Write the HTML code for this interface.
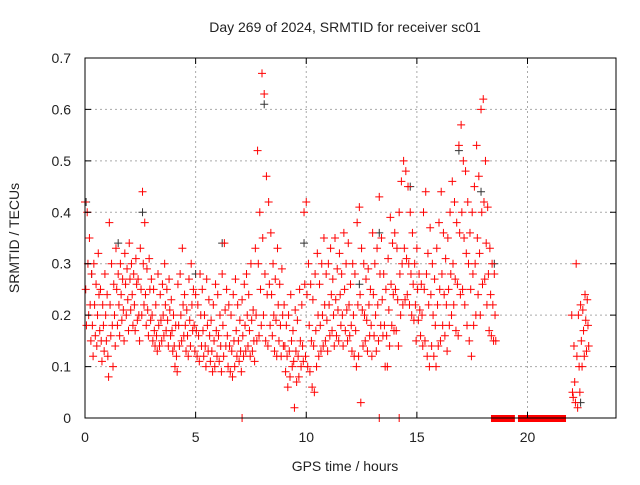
<!DOCTYPE html>
<html><head><meta charset="utf-8"><style>
body{margin:0;background:#fff;width:640px;height:480px;overflow:hidden}
svg text{font-family:"Liberation Sans",sans-serif;font-size:14px;fill:#222}
</style></head><body>
<svg id="c" width="640" height="480" xmlns="http://www.w3.org/2000/svg">
<text x="345" y="32" text-anchor="middle">Day 269 of 2024, SRMTID for receiver sc01</text>
<text x="345" y="471" text-anchor="middle">GPS time / hours</text>
<text transform="translate(19,238) rotate(-90)" text-anchor="middle">SRMTID / TECUs</text>
<g id="grid"></g><g id="marks"></g>
<rect x="85" y="58" width="531" height="360" fill="none" stroke="#000" stroke-width="1"/>
<g id="ticks"></g>
</svg>
<script>
const xTicks=[0,5,10,15,20];
const yTicks=[0,0.1,0.2,0.3,0.4,0.5,0.6,0.7];
const yTickLabels=["0","0.1","0.2","0.3","0.4","0.5","0.6","0.7"];
const mainStart=0, binStep=0.1;
const mainVals=[.42,.25,.18,.40,.30,.20,.35,.22,.15,.28,.18,.12,.30,.22,.16,.26,.14,.20,.32,.24,.17,.25,.15,.11,.22,.18,.13,.28,.20,.15,
.24,.12,.08,.38,.22,.16,.30,.18,.10,.26,.20,.14,.33,.25,.18,.28,.22,.16,.30,.24,.19,.27,.21,.15,.32,.26,.20,.29,.23,.17,
.34,.27,.21,.30,.24,.18,.28,.22,.17,.31,.26,.19,.27,.20,.15,.33,.25,.20,.44,.30,.22,.38,.24,.18,.29,.21,.16,.31,.25,.19,
.27,.20,.15,.25,.17,.14,.22,.16,.13,.28,.18,.14,.24,.19,.15,.26,.20,.16,.30,.22,.17,.25,.19,.14,.27,.21,.16,.23,.17,.13,
.20,.14,.10,.18,.12,.09,.26,.18,.14,.28,.20,.15,.33,.22,.16,.24,.18,.13,.21,.16,.12,.27,.19,.14,.30,.22,.17,.25,.18,.13,
.24,.17,.12,.22,.16,.11,.28,.20,.14,.25,.17,.12,.20,.14,.10,.27,.18,.13,.23,.16,.11,.19,.13,.09,.22,.15,.10,.26,.17,.12,
.24,.16,.11,.20,.14,.09,.28,.18,.12,.34,.21,.14,.25,.16,.10,.22,.14,.09,.20,.13,.08,.24,.15,.10,.27,.17,.12,.22,.15,.11,
.19,.13,.09,.23,.16,.12,.26,.18,.13,.28,.20,.14,.24,.17,.12,.30,.19,.13,.21,.15,.11,.33,.20,.15,.52,.30,.16,.40,.25,.18,
.67,.35,.20,.63,.28,.15,.47,.24,.14,.42,.26,.18,.36,.24,.16,.30,.20,.13,.27,.19,.12,.33,.22,.15,.26,.18,.12,.29,.20,.14,
.22,.14,.09,.18,.12,.06,.20,.13,.08,.24,.15,.10,.17,.11,.02,.21,.13,.07,.19,.12,.08,.25,.15,.10,.22,.14,.11,.40,.26,.12,
.42,.24,.10,.30,.18,.09,.26,.15,.06,.23,.14,.05,.28,.17,.10,.32,.20,.12,.26,.18,.13,.30,.20,.14,.35,.22,.15,.28,.19,.13,
.30,.22,.16,.33,.24,.17,.27,.20,.14,.35,.23,.16,.29,.21,.15,.32,.24,.18,.28,.20,.14,.36,.25,.17,.30,.21,.15,.34,.22,.16,
.26,.18,.13,.30,.20,.12,.28,.17,.10,.38,.22,.12,.41,.24,.03,.33,.21,.14,.30,.20,.15,.27,.19,.13,.29,.22,.16,.25,.18,.12,
.36,.24,.16,.30,.20,.13,.33,.22,.15,.43,.28,.18,.35,.23,.16,.28,.18,.10,.25,.16,.10,.31,.21,.14,.39,.26,.18,.34,.24,.17,
.36,.25,.17,.33,.23,.14,.40,.28,.20,.46,.30,.22,.50,.33,.23,.48,.31,.24,.45,.30,.22,.40,.28,.20,.36,.26,.19,.30,.22,.15,
.33,.25,.19,.28,.21,.16,.26,.20,.14,.40,.25,.15,.44,.28,.12,.32,.22,.10,.37,.24,.14,.30,.20,.12,.27,.18,.10,.33,.22,.14,
.38,.25,.15,.44,.28,.18,.36,.24,.16,.31,.22,.13,.35,.25,.18,.40,.28,.20,.46,.30,.22,.42,.27,.17,.38,.26,.16,.53,.36,.24,
.57,.40,.25,.50,.35,.22,.48,.32,.18,.42,.30,.15,.36,.25,.12,.40,.28,.18,.45,.30,.20,.53,.35,.24,.47,.32,.20,.60,.40,.26,
.62,.42,.27,.50,.34,.22,.41,.28,.17,.33,.24,.16,.30,.22,.15,.28,.20,.15];
const lateStart=22.0;
const lateVals=[.20,.05,.04,.14,.07,.03,.30,.12,.02,.20,.10,.05,.22,.15,.10,.21,.17,.12,.24,.19,.13,.23,.18,.14];
const zeroHours=[7.1,13.3,14.2];
const zeroRanges=[[18.53,19.25],[19.75,21.56]];
const blackHours=[0.05,0.3,1.5,2.6,5.0,6.2,8.1,9.9,12.4,13.3,14.7,16.9,17.9,18.5,22.4];
const blackVals=[.42,.28,.34,.40,.28,.34,.61,.34,.26,.36,.45,.52,.44,.30,.03];

const X0=85,X1=616,Y0=418,Y1=58,XMAX=24,YMAX=0.7;
const xs=h=>X0+(X1-X0)*h/XMAX, ys=v=>Y0-(Y0-Y1)*v/YMAX;
const NS="http://www.w3.org/2000/svg";
const grid=document.getElementById('grid'),ticks=document.getElementById('ticks'),marks=document.getElementById('marks');
function mk(tag,attrs,parent){const e=document.createElementNS(NS,tag);for(const k in attrs)e.setAttribute(k,attrs[k]);parent.appendChild(e);return e;}
xTicks.forEach(t=>{
 if(t>0){const g=mk('line',{x1:xs(t),x2:xs(t),y1:Y0,y2:Y1,stroke:'#aaa','stroke-dasharray':'2,3'},grid);
 
 }
 const tm=mk('path',{d:`M${xs(t)} ${Y0}v-6M${xs(t)} ${Y1}v6`,stroke:'#000'},ticks);
 
 
 const l=mk('text',{x:xs(t),y:Y0+24,'text-anchor':'middle'},ticks);l.textContent=t;
 
 
});
yTicks.forEach((t,i)=>{
 if(t>0&&t<YMAX){const g=mk('line',{x1:X0,x2:X1,y1:ys(t),y2:ys(t),stroke:'#aaa','stroke-dasharray':'2,3'},grid);
 
 }
 const tm=mk('path',{d:`M${X0} ${ys(t)}h6M${X1} ${ys(t)}h-6`,stroke:'#000'},ticks);
 
 
 const l=mk('text',{x:X0-14,y:ys(t)+5,'text-anchor':'end'},ticks);l.textContent=yTickLabels[i];
 
 
});
function plus(h,v,col,name){
 const x=xs(h),y=ys(v);
 const p=mk('path',{d:`M${x-4} ${y}H${x+4}M${x} ${y-4}V${y+4}`,stroke:col,'stroke-width':1,fill:'none'},marks);
 
 
}
blackHours.forEach((h,i)=>plus(h,blackVals[i],'#333','black-point'));
function series(start,vals){for(let i=0;i<vals.length;i++){const b=Math.floor(i/3),k=i%3;plus(start+b*binStep+k*0.033,vals[i],'#f00','srmtid-point');}}
series(mainStart,mainVals);series(lateStart,lateVals);
zeroHours.forEach(h=>plus(h,0,'#f00','zero-point'));
zeroRanges.forEach(r=>{
 const b=mk('rect',{x:xs(r[0])-4,y:ys(0)-3,width:xs(r[1])-xs(r[0])+8,height:7,fill:'#f00'},marks);
 
 
});
</script>
</body></html>
